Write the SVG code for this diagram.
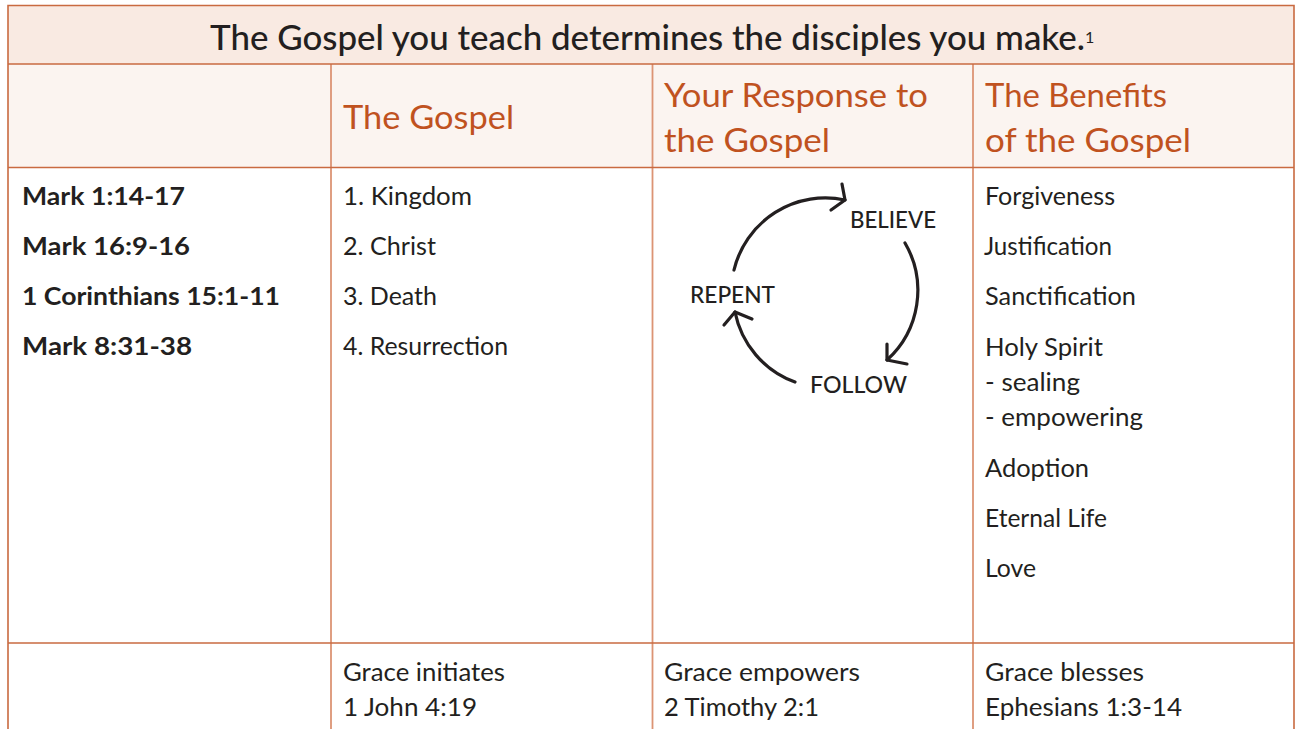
<svg xmlns="http://www.w3.org/2000/svg" width="1295" height="729" viewBox="0 0 1295 729">
<defs>
<style>
.t{font-family:Lato,"Noto Sans","Liberation Sans",sans-serif;fill:#231f20}
.title{font-size:34px;font-weight:500}
.hd{font-size:33px;fill:#c0521f}
.b{font-size:25px}
.bold{font-size:25px;font-weight:bold}
.cyc{font-size:23px;font-weight:500}
.ln{stroke:#c96a40;stroke-width:1.6;fill:none}
.vl{stroke:#dc9474;stroke-width:1.8;fill:none}
.arc{stroke:#231f20;stroke-width:3.2;fill:none;stroke-linecap:round;stroke-linejoin:round}
</style>
</defs>
<rect width="1295" height="729" fill="#ffffff"/>
<g id="table">
<rect x="8" y="5.5" width="1286" height="58.5" fill="#f9eae2"/>
<rect x="8" y="64" width="1286" height="103.5" fill="#fbf4f0"/>
<line class="vl" x1="331" y1="64" x2="331" y2="729"/>
<line class="vl" x1="652.5" y1="64" x2="652.5" y2="729"/>
<line class="vl" x1="973" y1="64" x2="973" y2="729"/>
<line class="ln" x1="8" y1="64" x2="1294" y2="64"/>
<line class="ln" x1="8" y1="167.5" x2="1294" y2="167.5"/>
<line class="ln" x1="8" y1="643" x2="1294" y2="643"/>
<polyline class="ln" points="8,729 8,5.5 1294,5.5 1294,729"/>
</g>
<g id="title">
<text class="t title" x="210" y="50" textLength="875" lengthAdjust="spacingAndGlyphs">The Gospel you teach determines the disciples you make.</text>
<text class="t" x="1085" y="43" font-size="16">1</text>
</g>
<g id="header-gospel">
<text class="t hd" x="343" y="129" textLength="171" lengthAdjust="spacingAndGlyphs">The Gospel</text>
</g>
<g id="header-response">
<text class="t hd" x="664" y="107" textLength="264" lengthAdjust="spacingAndGlyphs">Your Response to</text>
<text class="t hd" x="664" y="152" textLength="166" lengthAdjust="spacingAndGlyphs">the Gospel</text>
</g>
<g id="header-benefits">
<text class="t hd" x="985" y="107" textLength="182" lengthAdjust="spacingAndGlyphs">The Benefits</text>
<text class="t hd" x="985" y="152" textLength="206" lengthAdjust="spacingAndGlyphs">of the Gospel</text>
</g>
<g id="references">
<text class="t bold" x="22" y="205" textLength="163" lengthAdjust="spacingAndGlyphs">Mark 1:14-17</text>
<text class="t bold" x="22" y="255" textLength="168" lengthAdjust="spacingAndGlyphs">Mark 16:9-16</text>
<text class="t bold" x="22" y="305" textLength="258" lengthAdjust="spacingAndGlyphs">1 Corinthians 15:1-11</text>
<text class="t bold" x="22" y="355" textLength="170" lengthAdjust="spacingAndGlyphs">Mark 8:31-38</text>
</g>
<g id="gospel">
<text class="t b" x="343" y="205" textLength="129" lengthAdjust="spacingAndGlyphs">1. Kingdom</text>
<text class="t b" x="343" y="255" textLength="93" lengthAdjust="spacingAndGlyphs">2. Christ</text>
<text class="t b" x="343" y="305" textLength="94" lengthAdjust="spacingAndGlyphs">3. Death</text>
<text class="t b" x="343" y="355" textLength="165" lengthAdjust="spacingAndGlyphs">4. Resurrection</text>
</g>
<g id="benefits">
<text class="t b" x="985" y="205" textLength="130" lengthAdjust="spacingAndGlyphs">Forgiveness</text>
<text class="t b" x="984" y="255" textLength="128" lengthAdjust="spacingAndGlyphs">Justification</text>
<text class="t b" x="985" y="305" textLength="151" lengthAdjust="spacingAndGlyphs">Sanctification</text>
<text class="t b" x="985" y="356" textLength="118" lengthAdjust="spacingAndGlyphs">Holy Spirit</text>
<text class="t b" x="985" y="391" textLength="95" lengthAdjust="spacingAndGlyphs">- sealing</text>
<text class="t b" x="985" y="426" textLength="158" lengthAdjust="spacingAndGlyphs">- empowering</text>
<text class="t b" x="985" y="477" textLength="104" lengthAdjust="spacingAndGlyphs">Adoption</text>
<text class="t b" x="985" y="527" textLength="122" lengthAdjust="spacingAndGlyphs">Eternal Life</text>
<text class="t b" x="985" y="577" textLength="51" lengthAdjust="spacingAndGlyphs">Love</text>
</g>
<g id="grace-initiates">
<text class="t b" x="343" y="681" textLength="162" lengthAdjust="spacingAndGlyphs">Grace initiates</text>
<text class="t b" x="343" y="716" textLength="134" lengthAdjust="spacingAndGlyphs">1 John 4:19</text>
</g>
<g id="grace-empowers">
<text class="t b" x="664" y="681" textLength="196" lengthAdjust="spacingAndGlyphs">Grace empowers</text>
<text class="t b" x="664" y="716" textLength="155" lengthAdjust="spacingAndGlyphs">2 Timothy 2:1</text>
</g>
<g id="grace-blesses">
<text class="t b" x="985" y="681" textLength="159" lengthAdjust="spacingAndGlyphs">Grace blesses</text>
<text class="t b" x="985" y="716" textLength="197" lengthAdjust="spacingAndGlyphs">Ephesians 1:3-14</text>
</g>
<g id="node-believe">
<text class="t cyc" x="850" y="228" textLength="86" lengthAdjust="spacingAndGlyphs">BELIEVE</text>
</g>
<g id="node-repent">
<text class="t cyc" x="690" y="303" textLength="85" lengthAdjust="spacingAndGlyphs">REPENT</text>
</g>
<g id="node-follow">
<text class="t cyc" x="810" y="393" textLength="97" lengthAdjust="spacingAndGlyphs">FOLLOW</text>
</g>
<g id="connectors">
<path class="arc" d="M734,270 A94,94 0 0 1 845,200"/>
<polyline class="arc" points="842,184 845,200 831,210"/>
<path class="arc" d="M905,243 A94,94 0 0 1 887,360"/>
<polyline class="arc" points="887,344 887,360 907,364"/>
<path class="arc" d="M795,382 A94,94 0 0 1 735,312"/>
<polyline class="arc" points="724,325 735,312 752,319"/>
</g>
</svg>
